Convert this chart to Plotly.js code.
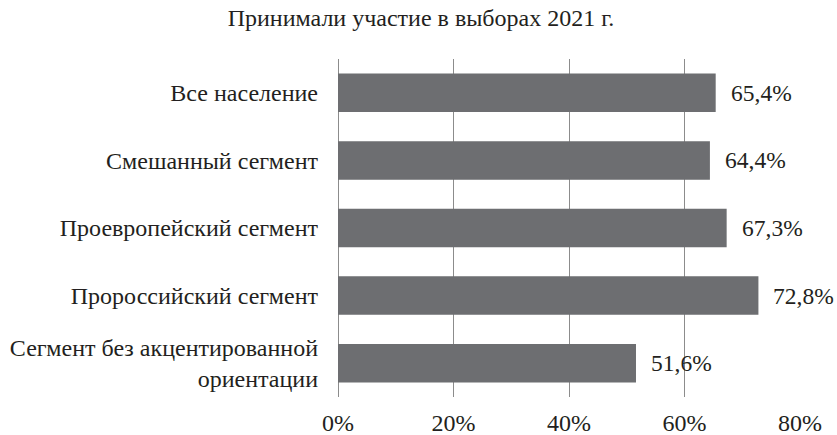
<!DOCTYPE html>
<html>
<head>
<meta charset="utf-8">
<script src="https://cdn.plot.ly/plotly-3.0.1.min.js"></script>
<style>html,body{margin:0;padding:0;background:#fff;}#chart{width:837px;height:435px;}</style>
</head>
<body>
<div id="chart"></div>
<script>
const categories = [
  "Все население",
  "Смешанный сегмент",
  "Проевропейский сегмент",
  "Пророссийский сегмент",
  "Сегмент без акцентированной<br>ориентации"
];
const values = [65.4, 64.4, 67.3, 72.8, 51.6];
const valueLabels = ["65,4%", "64,4%", "67,3%", "72,8%", "51,6%"];
const tickVals = [0, 20, 40, 60, 80];
const tickText = ["0%", "20%", "40%", "60%", "80%"];
const chartTitle = "Принимали участие в выборах 2021 г.";

const FONT = "Liberation Serif";
const TXT = "#231f20";

const trace = {
  type: "bar",
  orientation: "h",
  x: values,
  y: categories,
  width: 0.57,
  marker: {color: "#6d6e71", line: {width: 0}},
  hoverinfo: "none"
};

const annotations = values.map((v, i) => ({
  x: v, y: categories[i], xref: "x", yref: "y",
  text: valueLabels[i], showarrow: false,
  xanchor: "left", yanchor: "middle", xshift: 13,
  font: {family: FONT, size: 23.5, color: TXT}
}));

const layout = {
  width: 837, height: 435,
  margin: {l: 338, r: 37, t: 59, b: 38, pad: 0},
  paper_bgcolor: "#fff", plot_bgcolor: "#fff",
  showlegend: false,
  font: {family: FONT, color: TXT},
  title: {text: chartTitle, x: 0.503, xref: "container", xanchor: "center",
          y: 1, yref: "container", yanchor: "top", pad: {t: 9},
          font: {family: FONT, size: 24, color: TXT}},
  xaxis: {
    range: [0, 80], tickvals: tickVals, ticktext: tickText,
    showgrid: true, gridcolor: "#8c8c8c", gridwidth: 1,
    zeroline: true, zerolinecolor: "#8c8c8c", zerolinewidth: 1,
    showline: false, ticks: "", ticklabelstandoff: 9,
    tickfont: {family: FONT, size: 24, color: TXT},
    fixedrange: true
  },
  yaxis: {
    range: [4.5, -0.5], type: "category",
    categoryorder: "array", categoryarray: categories,
    showgrid: false, zeroline: false, showline: false, ticks: "",
    ticklabelstandoff: 19,
    tickfont: {family: FONT, size: 24, color: TXT},
    fixedrange: true
  },
  annotations: annotations,
  bargap: 0.43
};

Plotly.newPlot("chart", [trace], layout, {staticPlot: true, displayModeBar: false});
</script>
</body>
</html>
